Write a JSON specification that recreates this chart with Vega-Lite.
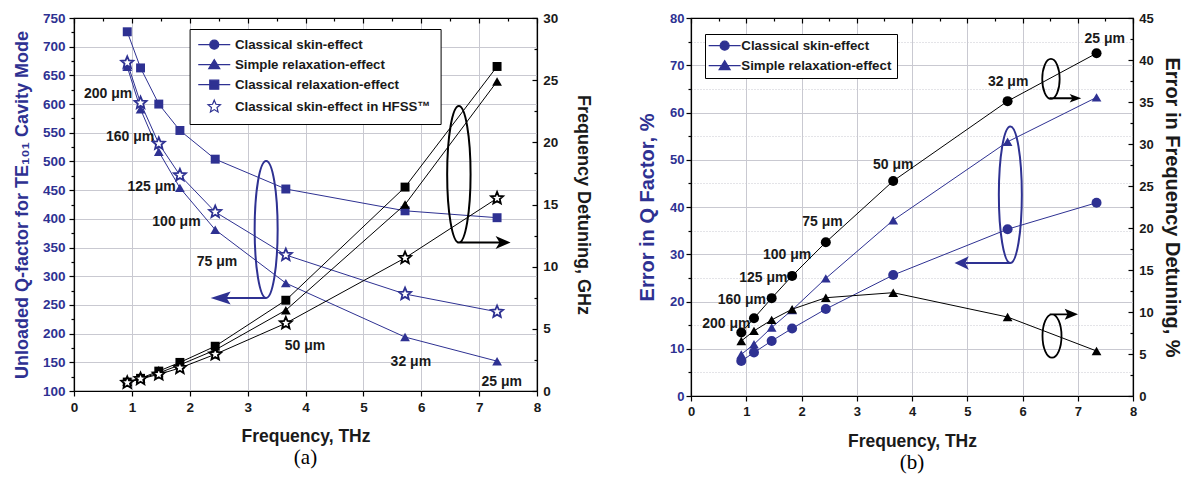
{
  "$schema": "https://vega.github.io/schema/vega-lite/v6.json",
  "background": "white",
  "padding": {"left": 12, "top": 8, "right": 2, "bottom": 2},
  "spacing": 43,
  "config": {
    "view": {"stroke": "black", "strokeWidth": 1.2},
    "font": "Liberation Sans",
    "axis": {
      "labelFont": "Liberation Sans", "labelFontWeight": "bold", "labelFontSize": 13.5,
      "titleFont": "Liberation Sans", "titleFontWeight": "bold", "titleFontSize": 17.5,
      "domainColor": "black", "domainWidth": 1.2, "tickColor": "black", "tickWidth": 1.2,
      "gridColor": "#c9c9d1", "gridWidth": 1, "labelColor": "#1a1a1a", "titleColor": "#1a1a1a",
      "minExtent": 0, "labelFlush": false, "labelOverlap": false
    },
    "axisY": {"minExtent": 0}
  },
  "resolve": {"scale": {"shape": "independent", "fill": "independent", "stroke": "independent"}},
  "datasets": {
    "a": [
      {"f": 0.92, "s": "Classical skin-effect", "q": 672, "g": 0.67},
      {"f": 1.15, "s": "Classical skin-effect", "q": 602, "g": 0.97},
      {"f": 1.465, "s": "Classical skin-effect", "q": 531, "g": 1.34},
      {"f": 1.83, "s": "Classical skin-effect", "q": 476, "g": 1.85},
      {"f": 2.44, "s": "Classical skin-effect", "q": 412, "g": 2.95},
      {"f": 3.66, "s": "Classical skin-effect", "q": 337, "g": 5.45},
      {"f": 5.72, "s": "Classical skin-effect", "q": 269, "g": 10.7},
      {"f": 7.31, "s": "Classical skin-effect", "q": 238, "g": 15.5},
      {"f": 0.92, "s": "Simple relaxation-effect", "q": 665, "g": 0.75},
      {"f": 1.15, "s": "Simple relaxation-effect", "q": 591, "g": 1.0},
      {"f": 1.465, "s": "Simple relaxation-effect", "q": 517, "g": 1.45},
      {"f": 1.83, "s": "Simple relaxation-effect", "q": 454, "g": 2.1},
      {"f": 2.44, "s": "Simple relaxation-effect", "q": 381, "g": 3.3},
      {"f": 3.66, "s": "Simple relaxation-effect", "q": 288, "g": 6.5},
      {"f": 5.72, "s": "Simple relaxation-effect", "q": 194, "g": 15.0},
      {"f": 7.31, "s": "Simple relaxation-effect", "q": 152, "g": 24.9},
      {"f": 0.92, "s": "Classical relaxation-effect", "q": 726, "g": 0.72},
      {"f": 1.15, "s": "Classical relaxation-effect", "q": 663, "g": 1.02},
      {"f": 1.465, "s": "Classical relaxation-effect", "q": 600, "g": 1.6},
      {"f": 1.83, "s": "Classical relaxation-effect", "q": 554, "g": 2.3},
      {"f": 2.44, "s": "Classical relaxation-effect", "q": 504, "g": 3.6},
      {"f": 3.66, "s": "Classical relaxation-effect", "q": 452, "g": 7.3},
      {"f": 5.72, "s": "Classical relaxation-effect", "q": 414, "g": 16.4},
      {"f": 7.31, "s": "Classical relaxation-effect", "q": 402, "g": 26.1},
      {"f": 0.92, "s": "Classical skin-effect in HFSS™", "q": 672, "g": 0.67},
      {"f": 1.15, "s": "Classical skin-effect in HFSS™", "q": 602, "g": 0.97},
      {"f": 1.465, "s": "Classical skin-effect in HFSS™", "q": 531, "g": 1.34},
      {"f": 1.83, "s": "Classical skin-effect in HFSS™", "q": 476, "g": 1.85},
      {"f": 2.44, "s": "Classical skin-effect in HFSS™", "q": 412, "g": 2.95},
      {"f": 3.66, "s": "Classical skin-effect in HFSS™", "q": 337, "g": 5.45},
      {"f": 5.72, "s": "Classical skin-effect in HFSS™", "q": 269, "g": 10.7},
      {"f": 7.31, "s": "Classical skin-effect in HFSS™", "q": 238, "g": 15.5}
    ],
    "b": [
      {"f": 0.91, "s": "Classical skin-effect", "q": 7.4, "g": 7.55},
      {"f": 1.14, "s": "Classical skin-effect", "q": 9.2, "g": 9.26},
      {"f": 1.46, "s": "Classical skin-effect", "q": 11.65, "g": 11.65},
      {"f": 1.83, "s": "Classical skin-effect", "q": 14.3, "g": 14.3},
      {"f": 2.44, "s": "Classical skin-effect", "q": 18.4, "g": 18.3},
      {"f": 3.66, "s": "Classical skin-effect", "q": 25.6, "g": 25.6},
      {"f": 5.73, "s": "Classical skin-effect", "q": 35.3, "g": 35.1},
      {"f": 7.34, "s": "Classical skin-effect", "q": 40.9, "g": 40.8},
      {"f": 0.91, "s": "Simple relaxation-effect", "q": 8.8, "g": 6.55},
      {"f": 1.14, "s": "Simple relaxation-effect", "q": 10.95, "g": 7.75},
      {"f": 1.46, "s": "Simple relaxation-effect", "q": 14.5, "g": 9.06},
      {"f": 1.83, "s": "Simple relaxation-effect", "q": 18.2, "g": 10.33},
      {"f": 2.44, "s": "Simple relaxation-effect", "q": 24.9, "g": 11.7},
      {"f": 3.66, "s": "Simple relaxation-effect", "q": 37.2, "g": 12.3},
      {"f": 5.73, "s": "Simple relaxation-effect", "q": 53.8, "g": 9.4},
      {"f": 7.34, "s": "Simple relaxation-effect", "q": 63.2, "g": 5.36}
    ],
    "labA": [
      {"f": 0.59, "q": 617, "t": "200 μm"},
      {"f": 0.97, "q": 543, "t": "160 μm"},
      {"f": 1.34, "q": 456, "t": "125 μm"},
      {"f": 1.77, "q": 395, "t": "100 μm"},
      {"f": 2.47, "q": 325.5, "t": "75 μm"},
      {"f": 3.99, "q": 179, "t": "50 μm"},
      {"f": 5.82, "q": 151, "t": "32 μm"},
      {"f": 7.39, "q": 116, "t": "25 μm"}
    ],
    "labB": [
      {"f": 0.64, "q": 15.2, "t": "200 μm"},
      {"f": 0.92, "q": 20.3, "t": "160 μm"},
      {"f": 1.31, "q": 24.9, "t": "125 μm"},
      {"f": 1.74, "q": 29.8, "t": "100 μm"},
      {"f": 2.38, "q": 36.9, "t": "75 μm"},
      {"f": 3.66, "q": 48.9, "t": "50 μm"},
      {"f": 5.74, "q": 66.4, "t": "32 μm"},
      {"f": 7.49, "q": 75.6, "t": "25 μm"}
    ],
    "annA": [
      {"f": 3.32, "q": 381.5, "k": "left"},
      {"f": 6.65, "q": 477.7, "k": "right"}
    ],
    "annB": [
      {"f": 5.78, "q": 42.6, "k": "left"},
      {"f": 6.515, "q": 67.1, "k": "rtop"},
      {"f": 6.534, "q": 12.7, "k": "rbot"}
    ]
  },
  "hconcat": [
    {
      "width": 463,
      "height": 373,
      "title": {"text": "(a)", "orient": "bottom", "anchor": "middle", "font": "Liberation Serif", "fontSize": 21, "fontWeight": "normal", "color": "black", "offset": 2},
      "resolve": {"scale": {"y": "independent"}, "axis": {"x": "independent", "y": "independent"}},
      "layer": [
        {
          "encoding": {
            "x": {"field": "f", "type": "quantitative", "scale": {"domain": [0, 8], "nice": false, "zero": false},
              "axis": {"orient": "bottom", "title": "Frequency, THz", "format": "d", "values": [0, 0.5, 1, 1.5, 2, 2.5, 3, 3.5, 4, 4.5, 5, 5.5, 6, 6.5, 7, 7.5, 8],
                "labelExpr": "datum.value % 1 == 0 ? datum.label : ''",
                "tickSize": {"condition": {"test": "datum.value % 1 != 0", "value": 3}, "value": 5},
                "grid": true, "gridDash": {"condition": {"test": "datum.value % 1 != 0", "value": [1, 2]}, "value": []},
                "labelPadding": 4, "titlePadding": 14}},
            "y": {"field": "q", "type": "quantitative", "scale": {"domain": [100, 750], "nice": false, "zero": false},
              "axis": {"orient": "left", "title": "Unloaded Q-factor for TE₁₀₁ Cavity Mode", "format": "d",
                "values": [100, 125, 150, 175, 200, 225, 250, 275, 300, 325, 350, 375, 400, 425, 450, 475, 500, 525, 550, 575, 600, 625, 650, 675, 700, 725, 750],
                "labelExpr": "datum.value % 50 == 0 ? datum.label : ''",
                "tickSize": {"condition": {"test": "datum.value % 50 != 0", "value": 3}, "value": 5},
                "grid": true, "gridOpacity": {"condition": {"test": "datum.value % 50 != 0", "value": 0}, "value": 1},
                "labelColor": "#2e3192", "titleColor": "#2e3192", "labelPadding": 4, "titlePadding": 11, "titleFontSize": 18, "minExtent": 0}}
          },
          "layer": [
            {"data": {"name": "a"}, "transform": [{"filter": "datum.s != 'Classical skin-effect in HFSS™'"}],
             "mark": {"type": "line", "color": "#2e3192", "strokeWidth": 1},
             "encoding": {"detail": {"field": "s"}}},
            {"data": {"name": "a"}, "transform": [{"filter": "datum.s == 'Simple relaxation-effect'"}],
             "mark": {"type": "point", "shape": "triangle-up", "filled": true, "color": "#2e3192", "size": 95, "opacity": 1}},
            {"data": {"name": "a"}, "transform": [{"filter": "datum.s == 'Classical relaxation-effect'"}],
             "mark": {"type": "point", "shape": "square", "filled": true, "color": "#2e3192", "size": 80, "opacity": 1}},
            {"data": {"name": "a"}, "transform": [{"filter": "datum.s == 'Classical skin-effect in HFSS™'"}],
             "mark": {"type": "point", "shape": "M0,-1L0.265,-0.364L0.951,-0.309L0.428,0.139L0.588,0.809L0,0.45L-0.588,0.809L-0.428,0.139L-0.951,-0.309L-0.265,-0.364Z", "filled": true, "fill": "white", "stroke": "#2e3192", "strokeWidth": 1.8, "size": 160, "opacity": 1}},
            {"data": {"name": "labA"},
             "mark": {"type": "text", "font": "Liberation Sans", "fontWeight": "bold", "fontSize": 14, "color": "#1a1a1a", "align": "center", "baseline": "middle"},
             "encoding": {"text": {"field": "t"}}},
            {"data": {"name": "annA"}, "transform": [{"filter": "datum.k == 'left'"}],
             "mark": {"type": "point", "shape": "M0,-68.5A11.5,68.5 0 1,1 0,68.5A11.5,68.5 0 1,1 0,-68.5Z M0,68.5L-40,68.5", "filled": false, "stroke": "#2e3192", "strokeWidth": 2, "size": 4, "opacity": 1}},
            {"data": {"name": "annA"}, "transform": [{"filter": "datum.k == 'left'"}],
             "mark": {"type": "point", "shape": "M-55.5,68.5L-35.5,62L-39.5,68.5L-35.5,75Z", "filled": true, "fill": "#2e3192", "strokeWidth": 0, "size": 4, "opacity": 1}},
            {"data": {"name": "annA"}, "transform": [{"filter": "datum.k == 'right'"}],
             "mark": {"type": "point", "shape": "M0,-68.3A11.7,68.3 0 1,1 0,68.3A11.7,68.3 0 1,1 0,-68.3Z M-1.5,68.3L42,68.3", "filled": false, "stroke": "black", "strokeWidth": 2, "size": 4, "opacity": 1}},
            {"data": {"name": "annA"}, "transform": [{"filter": "datum.k == 'right'"}],
             "mark": {"type": "point", "shape": "M51.7,68.3L36.7,61.8L40.7,68.3L36.7,74.8Z", "filled": true, "fill": "black", "strokeWidth": 0, "size": 4, "opacity": 1}},
            {"data": {"name": "a"},
             "mark": {"type": "point", "filled": true, "opacity": 0, "size": 4, "strokeWidth": 1},
             "encoding": {
               "shape": {"field": "s", "type": "nominal",
                 "scale": {"domain": ["Classical skin-effect", "Simple relaxation-effect", "Classical relaxation-effect", "Classical skin-effect in HFSS™"],
                   "range": ["M0,0L32,0M20.5,0A4.5,4.5 0 1,1 11.5,0A4.5,4.5 0 1,1 20.5,0Z", "M0,0L32,0M16,-5L21.5,4L10.5,4Z", "M0,0L32,0M11.5,-4.5L20.5,-4.5L20.5,4.5L11.5,4.5Z", "M16,-6.5L17.72,-2.37L22.18,-2.01L18.78,0.9L19.82,5.26L16,2.93L12.18,5.26L13.22,0.9L9.82,-2.01L14.28,-2.37Z"]},
                 "legend": {"title": null, "orient": "none", "legendX": 115.6, "legendY": 11, "strokeColor": "black", "fillColor": "white", "padding": 9, "symbolSize": 4, "symbolStrokeWidth": 1.2, "symbolOpacity": 1, "labelFont": "Liberation Sans", "labelFontWeight": "bold", "labelFontSize": 13.3, "labelColor": "#1a1a1a", "labelOffset": 30, "rowPadding": 5, "labelLimit": 400, "symbolOffset": -7}},
               "fill": {"field": "s", "type": "nominal",
                 "scale": {"domain": ["Classical skin-effect", "Simple relaxation-effect", "Classical relaxation-effect", "Classical skin-effect in HFSS™"],
                   "range": ["#2e3192", "#2e3192", "#2e3192", "white"]},
                 "legend": {"title": null, "orient": "none", "legendX": 115.6, "legendY": 11, "strokeColor": "black", "fillColor": "white", "padding": 9, "symbolSize": 4, "symbolStrokeWidth": 1.2, "symbolOpacity": 1, "labelFont": "Liberation Sans", "labelFontWeight": "bold", "labelFontSize": 13.3, "labelColor": "#1a1a1a", "labelOffset": 30, "rowPadding": 5, "labelLimit": 400, "symbolOffset": -7}},
               "stroke": {"field": "s", "type": "nominal",
                 "scale": {"domain": ["Classical skin-effect", "Simple relaxation-effect", "Classical relaxation-effect", "Classical skin-effect in HFSS™"],
                   "range": ["#2e3192", "#2e3192", "#2e3192", "#2e3192"]},
                 "legend": {"title": null, "orient": "none", "legendX": 115.6, "legendY": 11, "strokeColor": "black", "fillColor": "white", "padding": 9, "symbolSize": 4, "symbolStrokeWidth": 1.2, "symbolOpacity": 1, "labelFont": "Liberation Sans", "labelFontWeight": "bold", "labelFontSize": 13.3, "labelColor": "#1a1a1a", "labelOffset": 30, "rowPadding": 5, "labelLimit": 400, "symbolOffset": -7}}
             }}
          ]
        },
        {
          "encoding": {
            "x": {"field": "f", "type": "quantitative", "scale": {"domain": [0, 8], "nice": false, "zero": false},
              "axis": {"orient": "top", "title": null, "labels": false, "values": [0, 0.5, 1, 1.5, 2, 2.5, 3, 3.5, 4, 4.5, 5, 5.5, 6, 6.5, 7, 7.5, 8],
                "tickSize": {"condition": {"test": "datum.value % 1 != 0", "value": -3}, "value": -5}, "grid": false, "minExtent": 0}},
            "y": {"field": "g", "type": "quantitative", "scale": {"domain": [0, 30], "nice": false, "zero": false},
              "axis": {"orient": "right", "title": "Frequency Detuning, GHz", "format": "d",
                "values": [0, 2.5, 5, 7.5, 10, 12.5, 15, 17.5, 20, 22.5, 25, 27.5, 30],
                "labelExpr": "datum.value % 5 == 0 ? datum.label : ''",
                "tickSize": {"condition": {"test": "datum.value % 5 != 0", "value": -3}, "value": -5},
                "grid": false, "labelPadding": 10.7, "titlePadding": 16, "titleFontSize": 18, "minExtent": 0}}
          },
          "layer": [
            {"data": {"name": "a"}, "transform": [{"filter": "datum.s != 'Classical skin-effect in HFSS™'"}],
             "mark": {"type": "line", "color": "black", "strokeWidth": 1},
             "encoding": {"detail": {"field": "s"}}},
            {"data": {"name": "a"}, "transform": [{"filter": "datum.s == 'Simple relaxation-effect'"}],
             "mark": {"type": "point", "shape": "triangle-up", "filled": true, "color": "black", "size": 95, "opacity": 1}},
            {"data": {"name": "a"}, "transform": [{"filter": "datum.s == 'Classical relaxation-effect'"}],
             "mark": {"type": "point", "shape": "square", "filled": true, "color": "black", "size": 80, "opacity": 1}},
            {"data": {"name": "a"}, "transform": [{"filter": "datum.s == 'Classical skin-effect in HFSS™'"}],
             "mark": {"type": "point", "shape": "M0,-1L0.265,-0.364L0.951,-0.309L0.428,0.139L0.588,0.809L0,0.45L-0.588,0.809L-0.428,0.139L-0.951,-0.309L-0.265,-0.364Z", "filled": true, "fill": "white", "stroke": "black", "strokeWidth": 1.8, "size": 160, "opacity": 1}}
          ]
        }
      ]
    },
    {
      "width": 442,
      "height": 378,
      "title": {"text": "(b)", "orient": "bottom", "anchor": "middle", "font": "Liberation Serif", "fontSize": 21, "fontWeight": "normal", "color": "black", "offset": 2},
      "resolve": {"scale": {"y": "independent"}, "axis": {"x": "independent", "y": "independent"}},
      "layer": [
        {
          "encoding": {
            "x": {"field": "f", "type": "quantitative", "scale": {"domain": [0, 8], "nice": false, "zero": false},
              "axis": {"orient": "bottom", "title": "Frequency, THz", "format": "d", "values": [0, 0.5, 1, 1.5, 2, 2.5, 3, 3.5, 4, 4.5, 5, 5.5, 6, 6.5, 7, 7.5, 8],
                "labelExpr": "datum.value % 1 == 0 ? datum.label : ''",
                "tickSize": {"condition": {"test": "datum.value % 1 != 0", "value": 3}, "value": 5},
                "grid": true, "gridOpacity": {"condition": {"test": "datum.value % 1 != 0", "value": 0}, "value": 1},
                "labelPadding": 4, "titlePadding": 14, "labelFontSize": 13}},
            "y": {"field": "q", "type": "quantitative", "scale": {"domain": [0, 80], "nice": false, "zero": false},
              "axis": {"orient": "left", "title": "Error in Q Factor, %", "format": "d",
                "values": [0, 5, 10, 15, 20, 25, 30, 35, 40, 45, 50, 55, 60, 65, 70, 75, 80],
                "labelExpr": "datum.value % 10 == 0 ? datum.label : ''",
                "tickSize": {"condition": {"test": "datum.value % 10 != 0", "value": 3}, "value": 5},
                "grid": true, "gridDash": {"condition": {"test": "datum.value % 10 != 0", "value": [1, 2]}, "value": []},
                "labelColor": "#2e3192", "titleColor": "#2e3192", "labelPadding": 2, "titlePadding": 12, "titleFontSize": 20, "labelFontSize": 13, "minExtent": 0}}
          },
          "layer": [
            {"data": {"name": "b"},
             "mark": {"type": "line", "color": "#2e3192", "strokeWidth": 1},
             "encoding": {"detail": {"field": "s"}}},
            {"data": {"name": "b"}, "transform": [{"filter": "datum.s == 'Classical skin-effect'"}],
             "mark": {"type": "point", "shape": "circle", "filled": true, "color": "#2e3192", "size": 100, "opacity": 1}},
            {"data": {"name": "b"}, "transform": [{"filter": "datum.s == 'Simple relaxation-effect'"}],
             "mark": {"type": "point", "shape": "triangle-up", "filled": true, "color": "#2e3192", "size": 95, "opacity": 1}},
            {"data": {"name": "labB"},
             "mark": {"type": "text", "font": "Liberation Sans", "fontWeight": "bold", "fontSize": 14, "color": "#1a1a1a", "align": "center", "baseline": "middle"},
             "encoding": {"text": {"field": "t"}}},
            {"data": {"name": "annB"}, "transform": [{"filter": "datum.k == 'left'"}],
             "mark": {"type": "point", "shape": "M0,-68.3A11.5,68.3 0 1,1 0,68.3A11.5,68.3 0 1,1 0,-68.3Z M0,68.3L-45,68.3", "filled": false, "stroke": "#2e3192", "strokeWidth": 2, "size": 4, "opacity": 1}},
            {"data": {"name": "annB"}, "transform": [{"filter": "datum.k == 'left'"}],
             "mark": {"type": "point", "shape": "M-55.8,68.3L-41.5,61.5L-45,68.3L-41.5,75.1Z", "filled": true, "fill": "#2e3192", "strokeWidth": 0, "size": 4, "opacity": 1}},
            {"data": {"name": "annB"}, "transform": [{"filter": "datum.k == 'rtop'"}],
             "mark": {"type": "point", "shape": "M0,-20A8.7,20 0 1,1 0,20A8.7,20 0 1,1 0,-20Z M-1.3,19.3L22,19.3", "filled": false, "stroke": "black", "strokeWidth": 1.8, "size": 4, "opacity": 1}},
            {"data": {"name": "annB"}, "transform": [{"filter": "datum.k == 'rtop'"}],
             "mark": {"type": "point", "shape": "M30.3,19.3L18.7,15.1L21.5,19.3L18.7,23.5Z", "filled": true, "fill": "black", "strokeWidth": 0, "size": 4, "opacity": 1}},
            {"data": {"name": "annB"}, "transform": [{"filter": "datum.k == 'rbot'"}],
             "mark": {"type": "point", "shape": "M0,-21.7A9.5,21.7 0 1,1 0,21.7A9.5,21.7 0 1,1 0,-21.7Z M-2.3,-21.7L18,-21.7", "filled": false, "stroke": "black", "strokeWidth": 1.8, "size": 4, "opacity": 1}},
            {"data": {"name": "annB"}, "transform": [{"filter": "datum.k == 'rbot'"}],
             "mark": {"type": "point", "shape": "M26,-21.7L12.7,-27.2L15.5,-21.7L12.7,-16.2Z", "filled": true, "fill": "black", "strokeWidth": 0, "size": 4, "opacity": 1}},
            {"data": {"name": "b"},
             "mark": {"type": "point", "filled": true, "opacity": 0, "size": 4, "strokeWidth": 1},
             "encoding": {
               "shape": {"field": "s", "type": "nominal",
                 "scale": {"domain": ["Classical skin-effect", "Simple relaxation-effect"],
                   "range": ["M0,0L32,0M20.5,0A4.5,4.5 0 1,1 11.5,0A4.5,4.5 0 1,1 20.5,0Z", "M0,0L32,0M16,-5L21.5,4L10.5,4Z"]},
                 "legend": {"title": null, "orient": "none", "legendX": 14, "legendY": 16, "strokeColor": "black", "fillColor": "white", "padding": 5, "symbolSize": 4, "symbolStrokeWidth": 1.2, "symbolOpacity": 1, "labelFont": "Liberation Sans", "labelFontWeight": "bold", "labelFontSize": 13.3, "labelColor": "#1a1a1a", "labelOffset": 26, "rowPadding": 5, "labelLimit": 400, "symbolOffset": -8}},
               "fill": {"field": "s", "type": "nominal",
                 "scale": {"domain": ["Classical skin-effect", "Simple relaxation-effect"], "range": ["#2e3192", "#2e3192"]},
                 "legend": {"title": null, "orient": "none", "legendX": 14, "legendY": 16, "strokeColor": "black", "fillColor": "white", "padding": 5, "symbolSize": 4, "symbolStrokeWidth": 1.2, "symbolOpacity": 1, "labelFont": "Liberation Sans", "labelFontWeight": "bold", "labelFontSize": 13.3, "labelColor": "#1a1a1a", "labelOffset": 26, "rowPadding": 5, "labelLimit": 400, "symbolOffset": -8}},
               "stroke": {"field": "s", "type": "nominal",
                 "scale": {"domain": ["Classical skin-effect", "Simple relaxation-effect"], "range": ["#2e3192", "#2e3192"]},
                 "legend": {"title": null, "orient": "none", "legendX": 14, "legendY": 16, "strokeColor": "black", "fillColor": "white", "padding": 5, "symbolSize": 4, "symbolStrokeWidth": 1.2, "symbolOpacity": 1, "labelFont": "Liberation Sans", "labelFontWeight": "bold", "labelFontSize": 13.3, "labelColor": "#1a1a1a", "labelOffset": 26, "rowPadding": 5, "labelLimit": 400, "symbolOffset": -8}}
             }}
          ]
        },
        {
          "encoding": {
            "x": {"field": "f", "type": "quantitative", "scale": {"domain": [0, 8], "nice": false, "zero": false},
              "axis": {"orient": "top", "title": null, "labels": false, "values": [0, 0.5, 1, 1.5, 2, 2.5, 3, 3.5, 4, 4.5, 5, 5.5, 6, 6.5, 7, 7.5, 8],
                "tickSize": {"condition": {"test": "datum.value % 1 != 0", "value": -3}, "value": -5}, "grid": false, "minExtent": 9}},
            "y": {"field": "g", "type": "quantitative", "scale": {"domain": [0, 45], "nice": false, "zero": false},
              "axis": {"orient": "right", "title": "Error in Frequency Detuning, %", "format": "d",
                "values": [0, 2.5, 5, 7.5, 10, 12.5, 15, 17.5, 20, 22.5, 25, 27.5, 30, 32.5, 35, 37.5, 40, 42.5, 45],
                "labelExpr": "datum.value % 5 == 0 ? datum.label : ''",
                "tickSize": {"condition": {"test": "datum.value % 5 != 0", "value": -3}, "value": -5},
                "grid": false, "labelPadding": 10.7, "titlePadding": 8, "titleFontSize": 20, "labelFontSize": 13, "minExtent": 0}}
          },
          "layer": [
            {"data": {"name": "b"},
             "mark": {"type": "line", "color": "black", "strokeWidth": 1},
             "encoding": {"detail": {"field": "s"}}},
            {"data": {"name": "b"}, "transform": [{"filter": "datum.s == 'Classical skin-effect'"}],
             "mark": {"type": "point", "shape": "circle", "filled": true, "color": "black", "size": 100, "opacity": 1}},
            {"data": {"name": "b"}, "transform": [{"filter": "datum.s == 'Simple relaxation-effect'"}],
             "mark": {"type": "point", "shape": "triangle-up", "filled": true, "color": "black", "size": 95, "opacity": 1}}
          ]
        }
      ]
    }
  ]
}
